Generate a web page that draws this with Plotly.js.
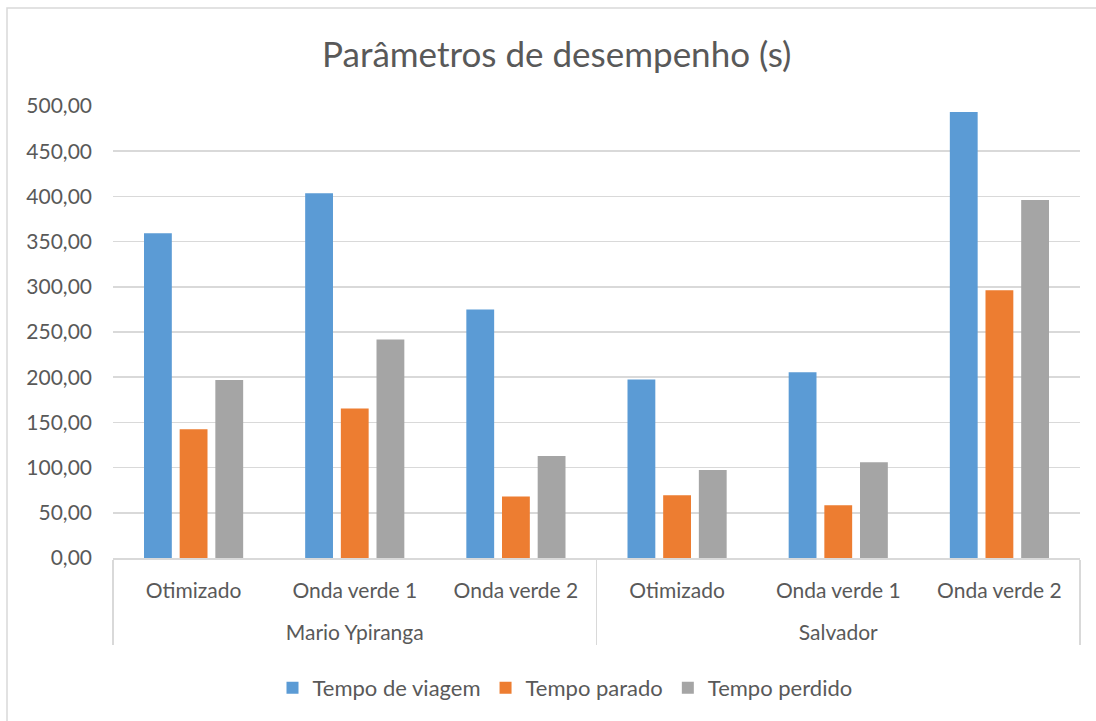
<!DOCTYPE html>
<html>
<head>
<meta charset="utf-8">
<script src="https://cdn.plot.ly/plotly-3.0.1.min.js"></script>
<style>html,body{margin:0;padding:0;background:#fff;}#chart{width:1096px;height:721px;}</style>
</head>
<body>
<div id="chart"></div>
<script>
const groups = ["Mario Ypiranga","Mario Ypiranga","Mario Ypiranga","Salvador","Salvador","Salvador"];
const categories = ["Otimizado","Onda verde 1","Onda verde 2","Otimizado","Onda verde 1","Onda verde 2"];
const tempoViagem = [359.1, 403.4, 275.0, 197.5, 205.6, 493.4];
const tempoParado = [142.5, 165.4, 68.0, 69.4, 58.3, 296.3];
const tempoPerdido = [196.8, 241.7, 112.9, 97.4, 105.9, 396.0];
const seriesNames = ["Tempo de viagem","Tempo parado","Tempo perdido"];
const seriesColors = ["#5b9bd5","#ed7d31","#a5a5a5"];

const FONT = "Lato, 'Open Sans', sans-serif";
const TXT = "#595959";
// trailing blank line gives the group row its Excel-like spacing
const catLabels = categories.map(c => c + "<br><span style='font-size:25px'> </span>");
const allSeries = [tempoViagem, tempoParado, tempoPerdido];
const traces = allSeries.map((vals, i) => ({
  type: "bar",
  name: seriesNames[i],
  x: [groups, catLabels],
  y: vals,
  marker: {color: seriesColors[i], line: {width: 0}},
  hoverinfo: "y+name"
}));

const L = 113, R = 1080, T = 106, B = 558;
const pw = R - L, ph = B - T;
const layout = {
  width: 1096, height: 721,
  paper_bgcolor: "#ffffff", plot_bgcolor: "#ffffff",
  separators: ",.",
  margin: {l: L, r: 1096 - R, t: T, b: 721 - B, pad: 0},
  font: {family: FONT, color: TXT, size: 21},
  title: {text: "Parâmetros de desempenho (s)", x: 0.508, xref: "container", xanchor: "center",
          y: 1 - 55/721, yref: "container", yanchor: "middle",
          font: {family: FONT, size: 35, color: TXT}},
  barmode: "group",
  bargap: 0.336,
  bargroupgap: 0.22,
  showlegend: true,
  legend: {orientation: "h", x: (565 - L)/pw, xanchor: "center", y: (B - 688)/ph, yanchor: "middle",
           font: {family: FONT, size: 22, color: TXT}, itemwidth: 30, traceorder: "normal"},
  xaxis: {
    type: "multicategory",
    showgrid: false,
    showline: true, linecolor: "#d9d9d9", linewidth: 1.5,
    showdividers: true, dividercolor: "#d9d9d9", dividerwidth: 1.5,
    ticks: "", ticklabelstandoff: 13,
    tickfont: {family: FONT, size: 21, color: TXT},
    zeroline: false
  },
  yaxis: {
    range: [0, 500], tickvals: [0,50,100,150,200,250,300,350,400,450,500],
    tickformat: ".2f",
    showgrid: true, gridcolor: "#d9d9d9", gridwidth: 1.5,
    zeroline: false, showline: false,
    ticks: "", ticklabelstandoff: 20,
    tickfont: {family: FONT, size: 21, color: TXT}
  },
  shapes: [{
    type: "rect", xref: "paper", yref: "paper",
    x0: (7 - L)/pw, x1: (1110 - L)/pw, y0: (B - 740)/ph, y1: (B - 8)/ph,
    line: {color: "#d9d9d9", width: 1.5}, fillcolor: "rgba(0,0,0,0)", layer: "below"
  }]
};

Plotly.newPlot("chart", traces, layout, {displayModeBar: false, staticPlot: true});
</script>
</body>
</html>
